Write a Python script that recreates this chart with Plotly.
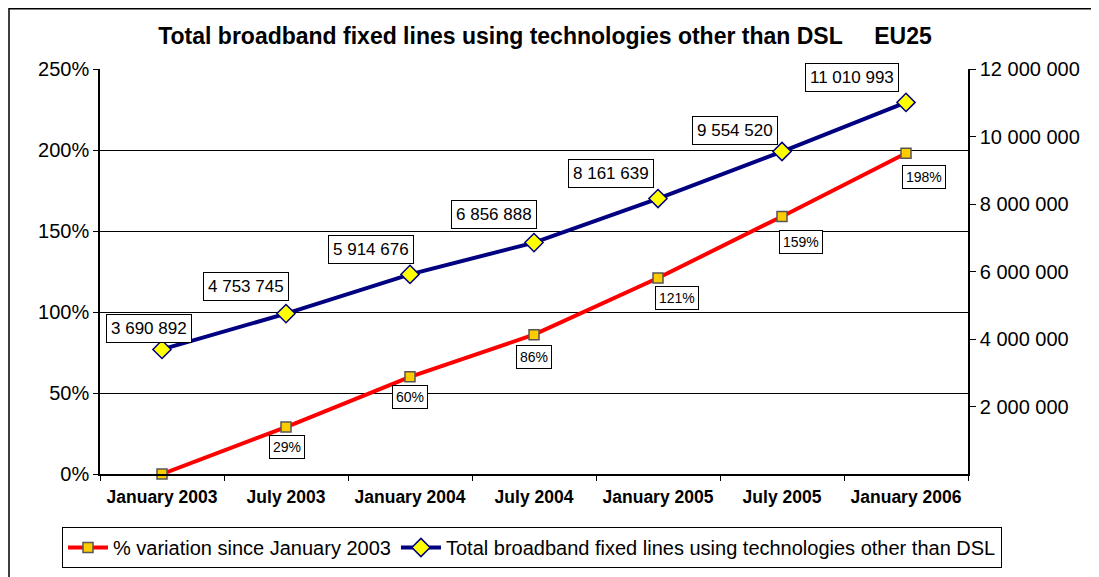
import plotly.graph_objects as go

categories = ["January 2003", "July 2003", "January 2004", "July 2004",
              "January 2005", "July 2005", "January 2006"]
pct_variation = [0, 29, 60, 86, 121, 159, 198]
total_lines = [3690892, 4753745, 5914676, 6856888, 8161639, 9554520, 11010993]
right_axis_ticks = [2000000, 4000000, 6000000, 8000000, 10000000, 12000000]

pct_name = "% variation since January 2003"
total_name = "Total broadband fixed lines using technologies other than DSL"
title_text = "Total broadband fixed lines using technologies other than DSL     EU25"

# label offsets (pixels) -- styling only
blue_offsets = [(-13, -21), (-40, -27), (-39, -25), (-40, -28), (-47, -25), (-47, -21), (-54, -25)]
red_offsets = [(1, 20), (0, 20), (0, 22), (19, 20), (19, 26), (18, 24)]

FONT = "Liberation Sans, Arial, sans-serif"

fig = go.Figure()
fig.add_trace(go.Scatter(
    x=categories, y=pct_variation, name=pct_name, mode="lines+markers",
    line=dict(color="#FF0000", width=4), cliponaxis=False,
    marker=dict(symbol="square", size=10, color="#FFCC00", line=dict(color="#555555", width=1.5)),
    yaxis="y"))
fig.add_trace(go.Scatter(
    x=categories, y=total_lines, name=total_name, mode="lines+markers",
    line=dict(color="#000080", width=4), cliponaxis=False,
    marker=dict(symbol="diamond", size=14, color="#FFFF00", line=dict(color="#000080", width=1.5)),
    yaxis="y2"))

annotations = []
for i, (c, v) in enumerate(zip(categories, total_lines)):
    ax, ay = blue_offsets[i]
    annotations.append(dict(
        x=c, y=v, xref="x", yref="y2", text=f"{v:,}".replace(",", " "),
        showarrow=True, arrowcolor="rgba(0,0,0,0)", ax=ax, ay=ay,
        font=dict(family=FONT, size=17, color="black"),
        bgcolor="white", bordercolor="black", borderwidth=1, borderpad=4))
for i, (c, v) in enumerate(zip(categories, pct_variation)):
    if i == 0:
        continue
    ax, ay = red_offsets[i - 1]
    annotations.append(dict(
        x=c, y=v, xref="x", yref="y", text=f"{v}%",
        showarrow=True, arrowcolor="rgba(0,0,0,0)", ax=ax, ay=ay,
        font=dict(family=FONT, size=14, color="black"),
        bgcolor="white", bordercolor="black", borderwidth=1, borderpad=3))

# page body has an 8px margin, so figure coords = screen coords - 8
OFF = 8
W, H = 1099 - OFF, 577 - OFF
L, T = 100 - OFF, 69 - OFF
R = W - (968 - OFF)
B = H - (474 - OFF)
pw, ph = W - L - R, H - T - B

fig.update_layout(
    width=W, height=H,
    margin=dict(l=L, r=R, t=T, b=B, autoexpand=False),
    paper_bgcolor="white", plot_bgcolor="white",
    separators=". ",
    font=dict(family=FONT, color="black"),
    title=dict(text=f"<b>{title_text}</b>", x=(545 - OFF) / W, xanchor="center", xref="container",
               y=1 - (36 - OFF) / H, yanchor="middle", yref="container",
               font=dict(family=FONT, size=23, color="black")),
    showlegend=True,
    legend=dict(orientation="h", xref="paper", yref="paper",
                x=(62 - 100) / pw, xanchor="left", y=(474 - 527) / ph, yanchor="top",
                bordercolor="black", borderwidth=1, bgcolor="white",
                font=dict(family=FONT, size=20, color="black"),
                itemwidth=40, tracegroupgap=0),
    xaxis=dict(type="category", range=[-0.5, 6.5], tickson="boundaries", ticks="outside",
               ticklen=5, tickcolor="black", showline=True, linecolor="black", linewidth=1.5,
               showgrid=False, tickfont=dict(family=FONT, size=17.5, color="black", weight="bold"),
               ticklabelstandoff=6),
    yaxis=dict(range=[0, 250], dtick=50, ticksuffix="%", ticks="outside", ticklen=5,
               tickcolor="black", showline=True, linecolor="black", linewidth=1.5,
               showgrid=True, gridcolor="black", gridwidth=1, zeroline=False,
               tickfont=dict(family=FONT, size=20, color="black")),
    yaxis2=dict(range=[0, 12000000], tickmode="array", tickvals=right_axis_ticks,
                tickformat=",d", overlaying="y", side="right",
                ticks="outside", ticklen=6, tickcolor="black", showline=True, linecolor="black",
                linewidth=1.5, showgrid=False, zeroline=False,
                tickfont=dict(family=FONT, size=20, color="black")),
    annotations=annotations,
    shapes=[dict(type="rect", xref="paper", yref="paper",
                 x0=(8 - 100) / pw + 1 / pw, x1=1.5, y0=-0.5, y1=1 + (T - 0.75) / ph,
                 line=dict(color="black", width=1.5), fillcolor="rgba(0,0,0,0)", layer="below")],
)

fig.write_html("out.html")
